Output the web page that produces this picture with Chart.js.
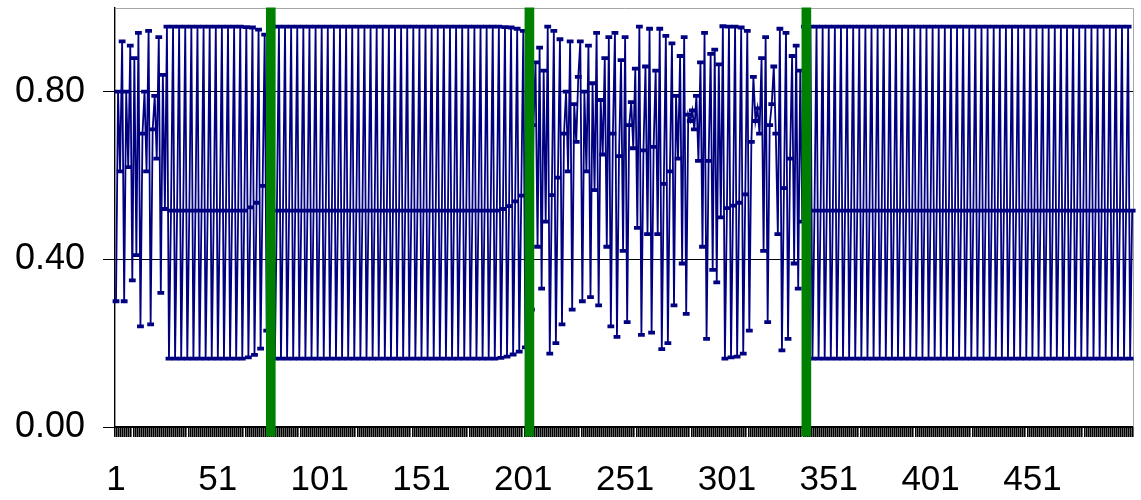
<!DOCTYPE html>
<html>
<head>
<meta charset="utf-8">
<script src="https://cdn.jsdelivr.net/npm/chart.js@4/dist/chart.umd.min.js"></script>
<style>
  html, body { margin: 0; padding: 0; background: #ffffff; }
  #wrap { width: 1141px; height: 500px; }
</style>
</head>
<body>
<div id="wrap"><canvas id="chart"></canvas></div>
<script>
// Iterates 1-25: opening chaotic stretch
const burstA = [
  0.30, 0.80, 0.61, 0.92, 0.30, 0.80, 0.62, 0.91, 0.35, 0.88,
  0.41, 0.94, 0.24, 0.70, 0.80, 0.61, 0.945, 0.245, 0.71, 0.79,
  0.64, 0.93, 0.32, 0.84, 0.52
];

// Iterates 26-77: first period-3 stretch, drifting out at its end
const laminarA = [
  0.955, 0.163, 0.516, 0.955, 0.163, 0.516, 0.955, 0.163, 0.516, 0.955, 0.163, 0.516, 0.955, 0.163, 0.516,
  0.955, 0.163, 0.516, 0.955, 0.163, 0.516, 0.955, 0.163, 0.516, 0.955, 0.163, 0.516, 0.955, 0.163, 0.516,
  0.955, 0.163, 0.516, 0.955, 0.163, 0.516, 0.955, 0.163, 0.516,
  0.954, 0.166, 0.524, 0.953, 0.172, 0.535, 0.948, 0.187, 0.575, 0.936, 0.23, 0.68,
  0.83
];

// Iterates 78-202: second period-3 stretch
const laminarB = [
  0.955, 0.163, 0.516, 0.955, 0.163, 0.516, 0.955, 0.163, 0.516, 0.955, 0.163, 0.516, 0.955, 0.163, 0.516,
  0.955, 0.163, 0.516, 0.955, 0.163, 0.516, 0.955, 0.163, 0.516, 0.955, 0.163, 0.516, 0.955, 0.163, 0.516,
  0.955, 0.163, 0.516, 0.955, 0.163, 0.516, 0.955, 0.163, 0.516, 0.955, 0.163, 0.516, 0.955, 0.163, 0.516,
  0.955, 0.163, 0.516, 0.955, 0.163, 0.516, 0.955, 0.163, 0.516, 0.955, 0.163, 0.516, 0.955, 0.163, 0.516,
  0.955, 0.163, 0.516, 0.955, 0.163, 0.516, 0.955, 0.163, 0.516, 0.955, 0.163, 0.516, 0.955, 0.163, 0.516,
  0.955, 0.163, 0.516, 0.955, 0.163, 0.516, 0.955, 0.163, 0.516, 0.955, 0.163, 0.516, 0.955, 0.163, 0.516,
  0.955, 0.163, 0.516, 0.955, 0.163, 0.516, 0.955, 0.163, 0.516, 0.955, 0.163, 0.516, 0.955, 0.163, 0.516,
  0.955, 0.163, 0.516, 0.955, 0.163, 0.516,
  0.955, 0.165, 0.52, 0.954, 0.168, 0.527, 0.953, 0.173, 0.538, 0.95, 0.18, 0.552,
  0.945, 0.19
];

// Iterates 203-338: chaotic burst
const burstB = [
  0.60, 0.92, 0.28, 0.72, 0.87, 0.43, 0.905, 0.33, 0.85, 0.49,
  0.955, 0.175, 0.553, 0.945, 0.20, 0.595, 0.925, 0.245, 0.70, 0.80,
  0.61, 0.92, 0.28, 0.77, 0.68, 0.835, 0.92, 0.30, 0.80, 0.61,
  0.91, 0.31, 0.82, 0.565, 0.94, 0.29, 0.78, 0.65, 0.88, 0.43,
  0.93, 0.24, 0.70, 0.94, 0.215, 0.646, 0.875, 0.42, 0.93, 0.25,
  0.72, 0.775, 0.665, 0.855, 0.475, 0.955, 0.22, 0.66, 0.86, 0.46,
  0.95, 0.225, 0.668, 0.85, 0.46, 0.95, 0.186, 0.58, 0.933, 0.20,
  0.61, 0.915, 0.29, 0.79, 0.64, 0.885, 0.39, 0.93, 0.27, 0.745,
  0.73, 0.755, 0.71, 0.79, 0.635, 0.87, 0.43, 0.94, 0.21, 0.635,
  0.89, 0.375, 0.90, 0.345, 0.865, 0.50, 0.956, 0.163, 0.522, 0.955,
  0.166, 0.528, 0.955, 0.168, 0.535, 0.953, 0.175, 0.555, 0.945, 0.23,
  0.68, 0.835, 0.73, 0.76, 0.70, 0.88, 0.42, 0.93, 0.25, 0.72,
  0.77, 0.86, 0.70, 0.46, 0.95, 0.183, 0.57, 0.94, 0.21, 0.64,
  0.885, 0.39, 0.91, 0.33, 0.85, 0.49
];

// Iterates 339-500: final period-3 stretch
const laminarC = [
  0.955, 0.163, 0.516, 0.955, 0.163, 0.516, 0.955, 0.163, 0.516, 0.955, 0.163, 0.516, 0.955, 0.163, 0.516,
  0.955, 0.163, 0.516, 0.955, 0.163, 0.516, 0.955, 0.163, 0.516, 0.955, 0.163, 0.516, 0.955, 0.163, 0.516,
  0.955, 0.163, 0.516, 0.955, 0.163, 0.516, 0.955, 0.163, 0.516, 0.955, 0.163, 0.516, 0.955, 0.163, 0.516,
  0.955, 0.163, 0.516, 0.955, 0.163, 0.516, 0.955, 0.163, 0.516, 0.955, 0.163, 0.516, 0.955, 0.163, 0.516,
  0.955, 0.163, 0.516, 0.955, 0.163, 0.516, 0.955, 0.163, 0.516, 0.955, 0.163, 0.516, 0.955, 0.163, 0.516,
  0.955, 0.163, 0.516, 0.955, 0.163, 0.516, 0.955, 0.163, 0.516, 0.955, 0.163, 0.516, 0.955, 0.163, 0.516,
  0.955, 0.163, 0.516, 0.955, 0.163, 0.516, 0.955, 0.163, 0.516, 0.955, 0.163, 0.516, 0.955, 0.163, 0.516,
  0.955, 0.163, 0.516, 0.955, 0.163, 0.516, 0.955, 0.163, 0.516, 0.955, 0.163, 0.516, 0.955, 0.163, 0.516,
  0.955, 0.163, 0.516, 0.955, 0.163, 0.516, 0.955, 0.163, 0.516, 0.955, 0.163, 0.516, 0.955, 0.163, 0.516,
  0.955, 0.163, 0.516, 0.955, 0.163, 0.516, 0.955, 0.163, 0.516, 0.955, 0.163, 0.516, 0.955, 0.163, 0.516,
  0.955, 0.163, 0.516, 0.955, 0.163, 0.516, 0.955, 0.163, 0.516, 0.955, 0.163, 0.516
];

const series = [].concat(burstA, laminarA, laminarB, burstB, laminarC);
const categories = series.map((_, i) => String(i + 1));
const xTickLabels = ['1', '51', '101', '151', '201', '251', '301', '351', '401', '451'];
const yTickValues = [0, 0.4, 0.8];

// Regime boundaries marked with vertical green bars
const boundaryCategories = ['77', '204', '340'];
const boundaryData = categories.map(c => boundaryCategories.includes(c) ? [-0.022, 1] : null);

const FONT = "'Liberation Sans', Arial, sans-serif";

const frameEdges = {
  id: 'frameEdges',
  beforeDatasetsDraw(chart) {
    const { ctx, chartArea: a } = chart;
    ctx.save();
    ctx.strokeStyle = '#a6a6a6';
    ctx.lineWidth = 1;
    ctx.beginPath();
    ctx.moveTo(a.left, Math.round(a.top) + 0.5);
    ctx.lineTo(Math.round(a.right) + 0.5, Math.round(a.top) + 0.5);
    ctx.lineTo(Math.round(a.right) + 0.5, a.bottom);
    ctx.stroke();
    ctx.restore();
  }
};

new Chart(document.getElementById('chart'), {
  type: 'line',
  data: {
    labels: categories,
    datasets: [
      {
        type: 'line',
        data: series,
        borderColor: '#000080',
        borderWidth: 1.8,
        tension: 0,
        pointStyle: 'line',
        pointRadius: 3.4,
        pointBorderWidth: 3.8,
        pointBorderColor: '#000080',
        pointBackgroundColor: '#000080',
        order: 2
      },
      {
        type: 'bar',
        data: boundaryData,
        backgroundColor: '#008000',
        borderWidth: 0,
        barThickness: 9,
        grouped: false,
        clip: false,
        order: 1
      }
    ]
  },
  options: {
    responsive: true,
    maintainAspectRatio: false,
    animation: false,
    devicePixelRatio: 1,
    layout: { padding: { top: 5, right: 3, left: 0, bottom: 0 } },
    plugins: { legend: { display: false }, tooltip: { enabled: false } },
    scales: {
      x: {
        type: 'category',
        offset: true,
        grid: { offset: true, drawOnChartArea: false, drawTicks: true, tickLength: 10, color: '#000000', lineWidth: 1.6 },
        border: { display: true, color: '#000000', width: 1.4 },
        ticks: {
          autoSkip: false,
          maxRotation: 0,
          minRotation: 0,
          padding: 22,
          color: '#000000',
          font: { family: FONT, size: 35 },
          callback: (v, i) => xTickLabels.includes(categories[i]) ? categories[i] : ''
        },
        afterFit: s => { s.height = 73; s.paddingLeft = 0; s.paddingRight = 0; }
      },
      y: {
        min: 0,
        max: 1,
        afterBuildTicks: s => { s.ticks = yTickValues.map(v => ({ value: v })); },
        grid: { color: '#000000', lineWidth: 1, tickLength: 12, drawTicks: true },
        border: { display: true, color: '#000000', width: 1.4 },
        ticks: {
          padding: 18,
          color: '#000000',
          font: { family: FONT, size: 36 },
          callback: v => Number(v).toFixed(2)
        },
        afterFit: s => { s.width = 115; s.paddingTop = 0; s.paddingBottom = 0; }
      }
    }
  },
  plugins: [frameEdges]
});
</script>
</body>
</html>
